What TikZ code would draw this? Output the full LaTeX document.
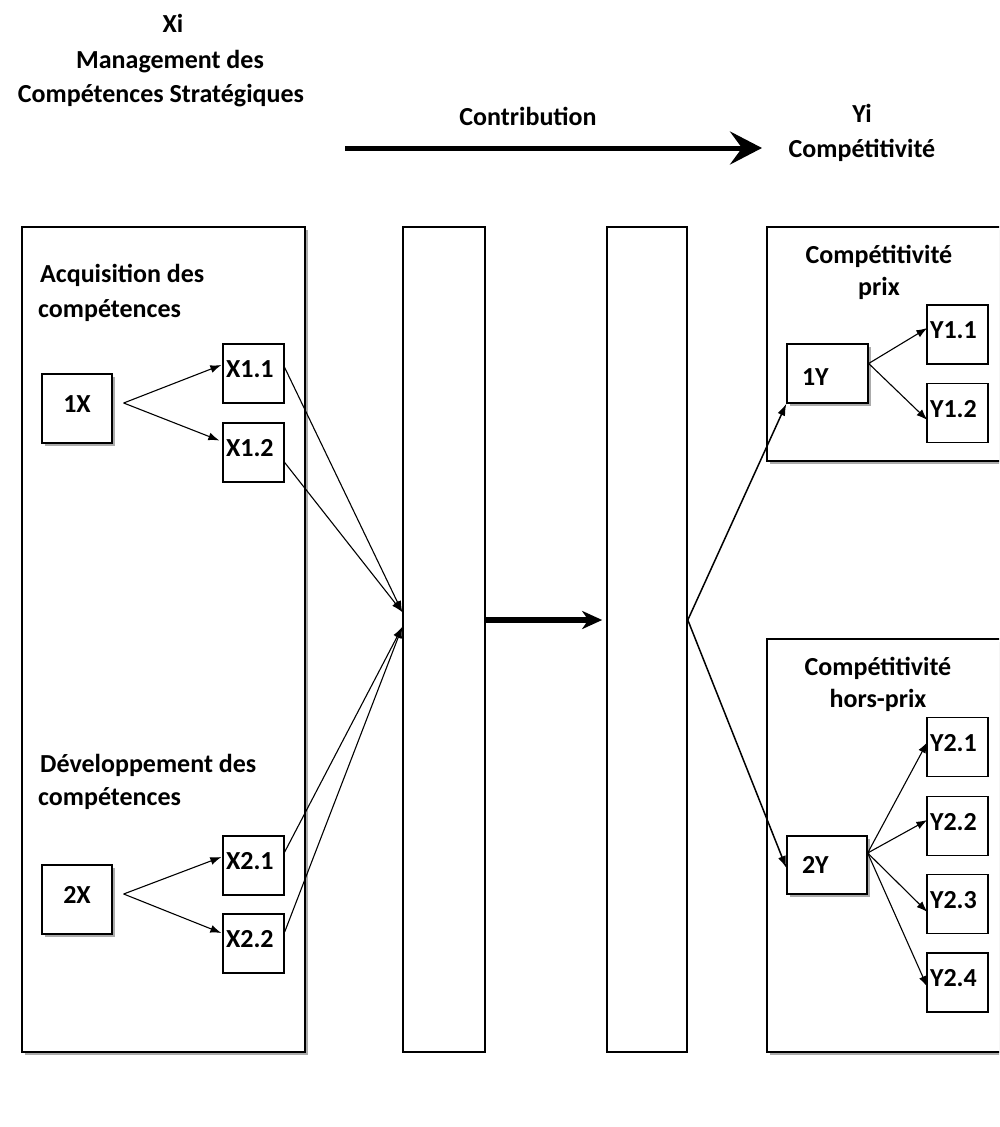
\documentclass[tikz,border=0pt]{standalone}
\usepackage{fontspec}
\setmainfont{Carlito}
\usetikzlibrary{arrows.meta,shadows,calc}
\begin{document}
\begin{tikzpicture}[x=1pt,y=-1pt,
  lblfont/.style={font=\bfseries\fontsize{26}{32}\selectfont},
  txt/.style={lblfont, inner sep=0pt},
  big/.style={draw, line width=1.6pt, fill=white, inner sep=0pt},
  shd/.style={drop shadow={shadow xshift=3pt, shadow yshift=-3pt, fill=black!55, opacity=0.6}},
  sbox/.style={draw, line width=1.3pt, fill=white, lblfont, inner ysep=0pt},
  xbox/.style={sbox, minimum width=61pt, minimum height=59pt, text width=55pt, inner xsep=3pt, align=left, text height=18pt, text depth=10pt},
  conn/.style={line width=1.1pt, -{Latex[length=11pt,width=8pt]}},
  thin/.style={line width=1pt},
  fat/.style={line width=1.5pt, -{Latex[length=12pt,width=8pt]}}
]
\useasboundingbox (0,0) rectangle (999,1127);
\clip (0,0) rectangle (999,1127);

% titles
\node[txt, anchor=base] (t1) at (173,32) {Xi};
\node[txt, anchor=base] (t2) at (170,68) {Management des};
\node[txt, anchor=base] (t3) at (161,102) {Compétences Stratégiques};
\node[txt, anchor=base] (contrib) at (528,125) {Contribution};
\node[txt, anchor=base] (yi) at (862,122) {Yi};
\node[txt, anchor=base] (yc) at (862,157) {Compétitivité};
\coordinate (ca) at (345,148);
\coordinate (cb) at (762,148);
\draw[line width=5pt, -{Stealth[length=32pt,width=33pt,inset=12pt]}] (ca) -- (cb);

% big boxes
\node[big, shd, minimum width=283pt, minimum height=825pt] (L) at (163.5,639.5) {};
\node[big, minimum width=82pt, minimum height=825pt] (M1) at (444,639.5) {};
\node[big, minimum width=80pt, minimum height=825pt] (M2) at (647,639.5) {};
\node[big, shd, minimum width=243pt, minimum height=234pt] (RT) at (888.5,344) {};
\node[big, shd, minimum width=243pt, minimum height=413pt] (RB) at (888.5,845.5) {};

% group labels
\node[txt, anchor=base west] (acq1) at (40,282) {Acquisition des};
\node[txt, anchor=base west] (acq2) at (38,317) {compétences};
\node[txt, anchor=base west] (dev1) at (40,772) {Développement des};
\node[txt, anchor=base west] (dev2) at (38,805) {compétences};
\node[txt, anchor=base] (cp1) at (879,263) {Compétitivité};
\node[txt, anchor=base] (cp2) at (879,295) {prix};
\node[txt, anchor=base] (ch1) at (878,675) {Compétitivité};
\node[txt, anchor=base] (ch2) at (878,707) {hors-prix};

% left small boxes
\node[sbox, shd, minimum width=70pt, minimum height=69pt, text height=18pt, text depth=11pt] (n1X) at (77,408.5) {1X};
\node[sbox, shd, minimum width=70pt, minimum height=69pt, text height=18pt, text depth=11pt] (n2X) at (77,899.5) {2X};
\node[xbox] (x11) at (253.5,373.5) {X1.1};
\node[xbox] (x12) at (253.5,452.5) {X1.2};
\node[xbox] (x21) at (253.5,865.5) {X2.1};
\node[xbox] (x22) at (253.5,943.5) {X2.2};

% right small boxes
\node[sbox, shd, minimum width=81pt, minimum height=59pt, text width=51pt, inner xsep=15pt, align=left, text height=23pt, text depth=0pt] (n1Y) at (827.5,373.5) {1Y};
\node[sbox, shd, minimum width=80pt, minimum height=58pt, text width=50pt, inner xsep=15pt, align=left, text height=18pt, text depth=2pt] (n2Y) at (827,865) {2Y};
\node[xbox] (y11) at (957.5,334.5) {Y1.1};
\node[xbox] (y12) at (957.5,413) {Y1.2};
\node[xbox] (y21) at (957.5,747) {Y2.1};
\node[xbox] (y22) at (957.5,826) {Y2.2};
\node[xbox] (y23) at (957.5,904) {Y2.3};
\node[xbox] (y24) at (957.5,982.5) {Y2.4};

% connectors left
\draw[conn] ([xshift=11pt,yshift=5.5pt]n1X.east) -- ([xshift=-1pt,yshift=8.5pt]x11.west);
\draw[conn] ([xshift=11pt,yshift=5.5pt]n1X.east) -- ([xshift=-3pt,yshift=12pt]x12.west);
\draw[conn] ([xshift=11pt,yshift=5.5pt]n2X.east) -- ([xshift=-1pt,yshift=8.5pt]x21.west);
\draw[conn] ([xshift=11pt,yshift=5.5pt]n2X.east) -- ([xshift=-1pt,yshift=10.5pt]x22.west);

\draw[conn] ([yshift=6pt]x11.east) -- ([yshift=27.5pt]M1.west);
\draw[conn] ([yshift=-10pt]x12.east) -- ([yshift=27.5pt]M1.west);
\draw[conn] ([yshift=13.5pt]x21.east) -- ([yshift=12.5pt]M1.west);
\draw[conn] ([yshift=11.5pt]x22.east) -- ([yshift=12.5pt]M1.west);

% middle arrow
\draw[line width=6pt, -{Stealth[length=20pt,width=18pt,inset=6pt]}] ([yshift=19.5pt]M1.east) -- ([xshift=-4pt,yshift=19.5pt]M2.west);

% right connectors
\draw[fat] ([yshift=19.5pt]M2.east) -- (n1Y.south west);
\draw[fat] ([yshift=19.5pt]M2.east) -- ([yshift=-3pt]n2Y.west);

\draw[conn] ([yshift=10pt]n1Y.east) -- ([xshift=1pt,yshift=6.5pt]y11.west);
\draw[conn] ([yshift=10pt]n1Y.east) -- ([xshift=1pt,yshift=-7pt]y12.west);
\draw[conn] ([yshift=12pt]n2Y.east) -- ([xshift=1pt,yshift=5pt]y21.west);
\draw[conn] ([yshift=12pt]n2Y.east) -- ([xshift=1pt,yshift=6pt]y22.west);
\draw[conn] ([yshift=12pt]n2Y.east) -- ([xshift=1pt,yshift=-8pt]y23.west);
\draw[conn] ([yshift=12pt]n2Y.east) -- ([xshift=1pt,yshift=-4.5pt]y24.west);
\end{tikzpicture}
\end{document}
